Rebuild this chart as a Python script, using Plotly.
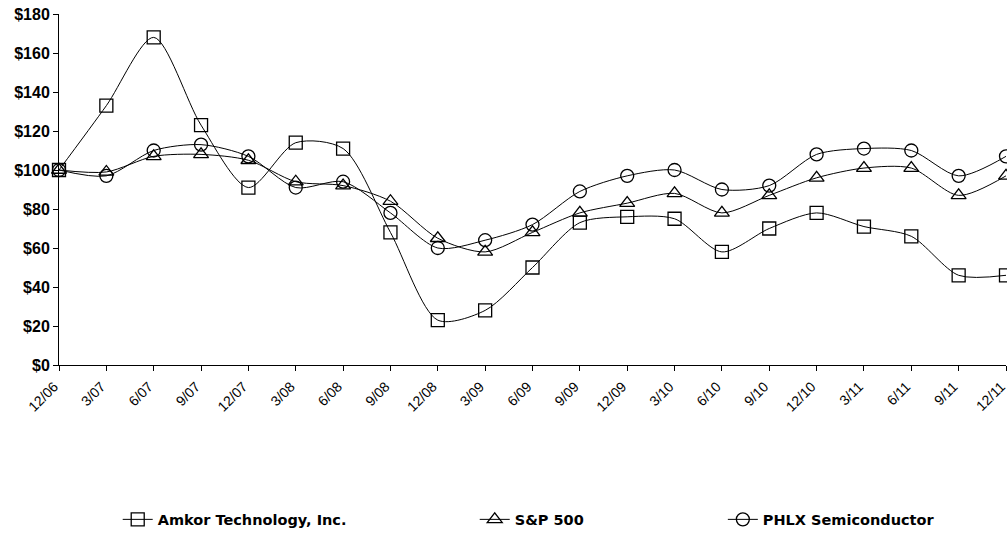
import plotly.graph_objects as go

periods = ["12/06", "3/07", "6/07", "9/07", "12/07", "3/08", "6/08", "9/08", "12/08", "3/09",
           "6/09", "9/09", "12/09", "3/10", "6/10", "9/10", "12/10", "3/11", "6/11", "9/11", "12/11"]
amkor = [100, 133, 168, 123, 91, 114, 111, 68, 23, 28, 50, 73, 76, 75, 58, 70, 78, 71, 66, 46, 46]
sp500 = [100, 99, 107, 108, 105, 94, 92, 84, 65, 58, 68, 78, 83, 88, 78, 87, 96, 101, 101, 87, 97]
phlx = [100, 97, 110, 113, 107, 91, 94, 78, 60, 64, 72, 89, 97, 100, 90, 92, 108, 111, 110, 97, 107]
y_ticks = [0, 20, 40, 60, 80, 100, 120, 140, 160, 180]
y_labels = ["$" + str(v) for v in y_ticks]

names = ["Amkor Technology, Inc.", "S&P 500", "PHLX Semiconductor"]
series = [amkor, sp500, phlx]
symbols = ["square-open", "triangle-up-open", "circle-open"]
legends = ["legend", "legend2", "legend3"]

FONT = "Liberation Sans"
x_idx = list(range(len(periods)))

fig = go.Figure()
for name, vals, sym, lg in zip(names, series, symbols, legends):
    fig.add_trace(go.Scatter(
        x=x_idx, y=vals, name=name, mode="lines+markers",
        line=dict(color="black", width=1, shape="spline", smoothing=0.8),
        marker=dict(symbol=sym, size=13, color="black", line=dict(width=1.3, color="black")),
        cliponaxis=False, legend=lg,
    ))

leg_common = dict(orientation="h", yanchor="middle", y=-0.44, xanchor="left",
                  font=dict(family="DejaVu Sans", size=14.5, color="black", weight="bold"),
                  bgcolor="rgba(0,0,0,0)", itemwidth=30)

fig.update_layout(
    width=1007, height=546,
    margin=dict(l=59, r=1, t=14, b=181, autoexpand=False),
    paper_bgcolor="white", plot_bgcolor="white",
    font=dict(family=FONT, size=13, color="black"),
    showlegend=True,
    legend=dict(x=0.062, **leg_common),
    legend2=dict(x=0.439, **leg_common),
    legend3=dict(x=0.701, **leg_common),
    xaxis=dict(
        range=[0, 20], tickmode="array", tickvals=x_idx, ticktext=periods,
        tickangle=-45, showgrid=False, zeroline=False,
        showline=True, linecolor="black", linewidth=1,
        ticks="outside", ticklen=5, tickcolor="black", ticklabeloverflow="allow",
        ticklabelshift=-5, ticklabelstandoff=2,
        tickfont=dict(family=FONT, size=14, color="black"),
    ),
    yaxis=dict(
        range=[0, 180], tickmode="array", tickvals=y_ticks, ticktext=y_labels,
        showgrid=False, zeroline=False,
        showline=True, linecolor="black", linewidth=1,
        ticks="outside", ticklen=5, tickcolor="black", ticklabeloverflow="allow",
        tickfont=dict(family=FONT, size=16, color="black", weight="bold"),
    ),
)

# remove the browser's default 8px body margin so the figure fills the window exactly
fig.write_html("out.html", config={"displayModeBar": False},
               post_script="document.body.style.margin='0';")
